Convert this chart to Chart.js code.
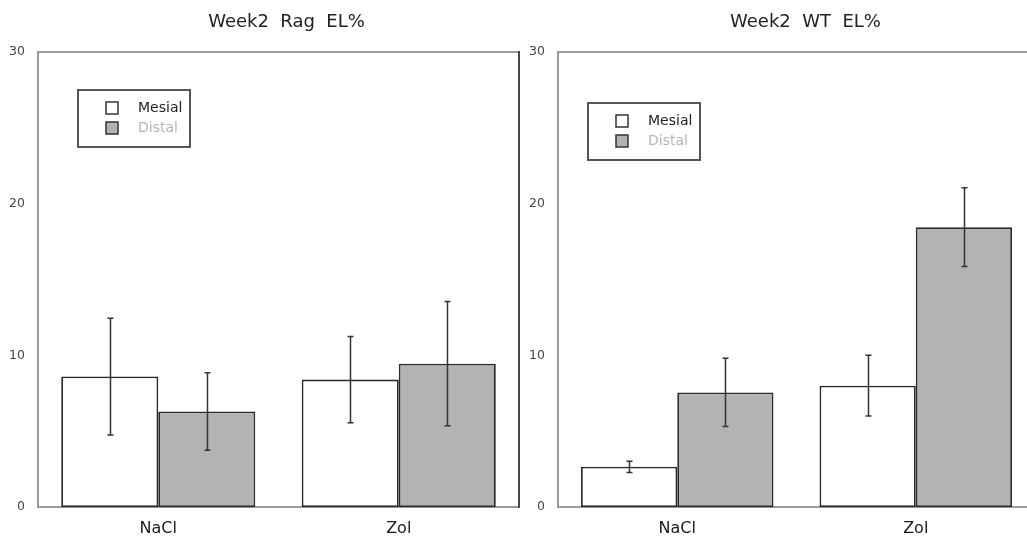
<!DOCTYPE html>
<html><head><meta charset="utf-8">
<script src="https://cdn.jsdelivr.net/npm/chart.js@4.4.1/dist/chart.umd.min.js"></script>
<style>
html,body{margin:0;padding:0;background:#fff;overflow:hidden;width:1027px;height:538px;position:relative;}
#c1{position:absolute;left:0;top:0;}
#c2{position:absolute;left:528px;top:0;}
</style></head><body>
<canvas id="c1" width="528" height="538"></canvas>
<canvas id="c2" width="520" height="538"></canvas>
<script>
// ---- data ----
const categories = ['NaCl', 'Zol'];
const seriesNames = ['Mesial', 'Distal'];
const titles = ['Week2  Rag  EL%', 'Week2  WT  EL%'];
const yTicks = [0, 10, 20, 30];

const ragMesial = [8.6, 8.4];
const ragMesialErr = [3.85, 2.85];
const ragDistal = [6.3, 9.45];
const ragDistalErr = [2.55, 4.1];

const wtMesial = [2.65, 8.0];
const wtMesialErr = [0.37, 2.0];
const wtDistal = [7.55, 18.45];
const wtDistalErr = [2.25, 2.6];

// ---- styles ----
const FONT = 'DejaVu Sans';
const mesialFill = '#ffffff';
const distalFill = '#b3b3b3';
const barBorder = '#2a2a2a';

const framePlugin = {
  id: 'frame',
  beforeDatasetsDraw(chart, args, opts) {
    const {ctx, chartArea: a} = chart;
    ctx.save();
    ctx.lineCap = 'butt';
    ctx.strokeStyle = '#9a9a9a';
    ctx.lineWidth = 2;
    ctx.beginPath();
    ctx.moveTo(a.left, a.top); ctx.lineTo(opts.fullRight ? chart.width : a.right, a.top);
    ctx.moveTo(a.left, a.top - 1); ctx.lineTo(a.left, a.bottom + 1);
    ctx.moveTo(a.left, a.bottom); ctx.lineTo(opts.fullRight ? chart.width : a.right, a.bottom);
    ctx.stroke();
    if (opts.rightBorder) {
      ctx.strokeStyle = '#333';
      ctx.lineWidth = 1.8;
      ctx.beginPath();
      ctx.moveTo(a.right, a.top - 1); ctx.lineTo(a.right, a.bottom + 1);
      ctx.stroke();
    }
    ctx.restore();
  },
  afterDraw(chart, args, opts) {
    const {ctx, chartArea: a} = chart;
    ctx.save();
    ctx.fillStyle = '#222';
    ctx.font = '18px "' + FONT + '"';
    ctx.textAlign = 'center';
    ctx.textBaseline = 'middle';
    ctx.fillText(opts.title, (a.left + a.right) / 2 + opts.titleShift, 22);
    // legend
    const bx = a.left + opts.legendDx, by = a.top + opts.legendDy;
    const bw = 112, bh = 57;
    ctx.strokeStyle = '#444';
    ctx.lineWidth = 1.8;
    ctx.strokeRect(bx, by, bw, bh);
    const fills = [mesialFill, distalFill];
    const textCols = ['#222', '#b5b5b5'];
    ctx.font = '14px "' + FONT + '"';
    ctx.textAlign = 'left';
    seriesNames.forEach((name, i) => {
      const sy = by + 12 + i * 20;
      ctx.fillStyle = fills[i];
      ctx.fillRect(bx + 28, sy, 12, 12);
      ctx.strokeStyle = '#333';
      ctx.lineWidth = 1.5;
      ctx.strokeRect(bx + 28, sy, 12, 12);
      ctx.fillStyle = textCols[i];
      ctx.fillText(name, bx + 60, sy + 6);
    });
    ctx.restore();
  }
};

const errorPlugin = {
  id: 'errbars',
  afterDatasetsDraw(chart, args, opts) {
    const {ctx} = chart;
    const y = chart.scales.y;
    ctx.save();
    ctx.strokeStyle = '#333';
    ctx.lineWidth = 1.5;
    chart.data.datasets.forEach((ds, di) => {
      const meta = chart.getDatasetMeta(di);
      meta.data.forEach((bar, i) => {
        const v = ds.data[i], e = ds.errors[i];
        const yt = y.getPixelForValue(v + e), yb = y.getPixelForValue(v - e);
        const x = Math.round(bar.x) + 0.5;
        ctx.beginPath();
        ctx.moveTo(x, yt); ctx.lineTo(x, yb);
        ctx.moveTo(x - 3, yt); ctx.lineTo(x + 3, yt);
        ctx.moveTo(x - 3, yb); ctx.lineTo(x + 3, yb);
        ctx.stroke();
      });
    });
    ctx.restore();
  }
};

function makeChart(id, mesial, mesialErr, distal, distalErr, frameOpts, pad, yWidth) {
  return new Chart(document.getElementById(id), {
    type: 'bar',
    data: {
      labels: categories,
      datasets: [
        {label: seriesNames[0], data: mesial, errors: mesialErr, backgroundColor: mesialFill,
         borderColor: barBorder, borderWidth: 1.8, borderSkipped: false},
        {label: seriesNames[1], data: distal, errors: distalErr, backgroundColor: distalFill,
         borderColor: barBorder, borderWidth: 1.8, borderSkipped: false}
      ]
    },
    options: {
      responsive: false,
      animation: false,
      events: [],
      layout: {padding: pad},
      categoryPercentage: 0.807,
      barPercentage: 1.0,
      plugins: {
        legend: {display: false},
        title: {display: false},
        tooltip: {enabled: false},
        frame: frameOpts
      },
      scales: {
        x: {
          offset: true,
          grid: {display: false, drawTicks: false},
          border: {display: false},
          ticks: {font: {family: FONT, size: 16}, color: '#1a1a1a', padding: 12},
          afterFit(s) { s.height = 31; }
        },
        y: {
          min: 0, max: 30,
          grid: {display: false, drawTicks: false},
          border: {display: false},
          afterBuildTicks(s) { s.ticks = yTicks.map(v => ({value: v})); },
          ticks: {font: {family: FONT, size: 12.5}, color: '#444', padding: 13},
          afterFit(s) { s.width = yWidth; }
        }
      }
    },
    plugins: [framePlugin, errorPlugin]
  });
}

makeChart('c1', ragMesial, ragMesialErr, ragDistal, ragDistalErr,
  {title: titles[0], titleShift: 8, legendDx: 40, legendDy: 38, rightBorder: true, fullRight: false},
  {top: 52, right: 9, bottom: 0, left: 0}, 38);
makeChart('c2', wtMesial, wtMesialErr, wtDistal, wtDistalErr,
  {title: titles[1], titleShift: 9, legendDx: 30, legendDy: 51, rightBorder: false, fullRight: true},
  {top: 52, right: 13, bottom: 0, left: 0}, 30);
</script>
</body></html>
